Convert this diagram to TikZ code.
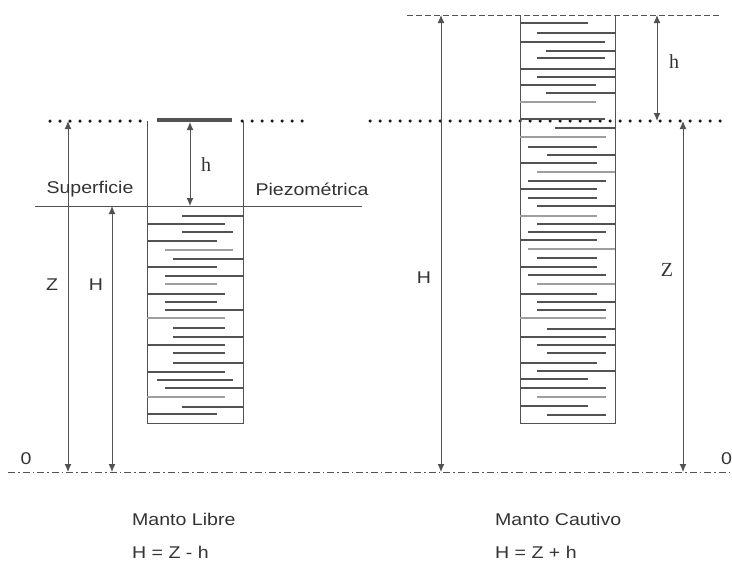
\documentclass[tikz,border=0pt]{standalone}
\usepackage{fontspec}
\setmainfont{Liberation Sans}[FakeStretch=1.15]
\newfontfamily\seriff{Liberation Serif}
\usetikzlibrary{arrows.meta}
\definecolor{ln}{gray}{0.32}
\definecolor{lg}{gray}{0.62}
\tikzset{
  ln/.style={draw=ln, line width=1pt},
  dotline/.style={draw=black!90, line width=3.5pt, line cap=round, dash pattern=on 0pt off 10pt},
  dimarrow/.style={draw=ln, line width=1pt, {Latex[length=8pt,width=7pt]}-{Latex[length=8pt,width=7pt]}},
  lbl/.style={inner sep=0pt, font=\fontsize{17}{20}\selectfont, text=black!80},
  slbl/.style={inner sep=0pt, font=\seriff\fontsize{20}{22}\selectfont, text=black!80},
  hatch/.style={draw=ln, line width=1.1pt},
  hatchg/.style={draw=lg, line width=1.5pt}
}
\begin{document}
\begin{tikzpicture}[x=1pt,y=-1pt]
\useasboundingbox (0,0) rectangle (732,562);
% ---------- left: Manto Libre ----------
\path[dotline] (50,121) -- (145,121);
\path[dotline] (242,121) -- (312,121);
\draw[ln, line width=3.2pt] (157,120) -- (232,120);
\draw[ln] (147,121) -- (147,423) -- (243,423) -- (243,121);
\draw[ln] (35,206) -- (362,206);
\foreach \y/\a/\b/\c in {216/182/243/0,224/147/225/0,232/182/233/0,241/147/217/0,250/165/233/1,259/173/243/0,267/147/217/0,276/165/243/0,284/165/217/1,294/147/225/0,302/165/217/0,310/165/243/0,318/147/225/1,328/173/225/0,337/173/243/0,345/147/225/0,353/173/225/0,363/173/243/0,372/147/225/0,380/157/233/0,388/165/243/0,397/147/225/1,407/182/243/0,414/147/217/0}{
  \ifnum\c=0 \draw[hatch] (\a,\y) -- (\b,\y); \else \draw[hatchg] (\a,\y) -- (\b,\y); \fi
}
% ---------- right: Manto Cautivo ----------
\draw[draw=ln, line width=1pt, dash pattern=on 6pt off 3pt] (407,15) -- (720,15);
\path[dotline] (370,121) -- (730,121);
\draw[ln] (520,15) -- (520,423) -- (615,423) -- (615,15);
\foreach \y/\a/\b/\c in {23/520/588/0,33/537/615/0,42/520/605/0,51/546/615/0,58/537/605/0,69/520/615/0,77/537/615/0,85/520/596/0,93/546/615/0,102/520/596/1,119/520/605/0,128/555/615/0,137/520/606/1,147/528/597/0,155/547/615/0,163/520/597/0,172/537/615/1,181/528/606/0,189/520/597/0,198/528/597/0,206/537/615/0,216/520/597/1,224/537/615/0,232/528/606/0,240/520/597/0,249/528/615/1,258/537/597/0,267/520/597/0,275/528/606/0,284/537/615/1,294/520/597/0,302/537/615/0,310/537/606/0,318/520/606/1,329/547/615/0,337/520/606/0,345/537/615/0,353/547/606/0,363/520/597/0,371/537/615/0,379/520/588/0,388/520/606/0,397/537/606/1,406/520/588/0,415/547/606/0}{
  \ifnum\c=0 \draw[hatch] (\a,\y) -- (\b,\y); \else \draw[hatchg] (\a,\y) -- (\b,\y); \fi
}
% ---------- datum ----------
\draw[draw=ln, line width=1pt, dash pattern=on 7pt off 3pt on 1.5pt off 3pt] (8,472) -- (732,472);
% ---------- coordinates ----------
\coordinate (lZt) at (68,121);  \coordinate (lZb) at (68,472);
\coordinate (lHt) at (112,206); \coordinate (lHb) at (112,472);
\coordinate (lht) at (190,122); \coordinate (lhb) at (190,206);
\coordinate (rHt) at (441,15);  \coordinate (rHb) at (441,472);
\coordinate (rht) at (657,15);  \coordinate (rhb) at (657,121);
\coordinate (rZt) at (683,121); \coordinate (rZb) at (683,472);
\draw[dimarrow] (lZt) -- (lZb);
\draw[dimarrow] (lHt) -- (lHb);
\draw[dimarrow] (lht) -- (lhb);
\draw[dimarrow] (rHt) -- (rHb);
\draw[dimarrow] (rht) -- (rhb);
\draw[dimarrow] (rZt) -- (rZb);
% ---------- labels ----------
\node[lbl] (sup) at (90,189) {Superficie};
\node[lbl] (pie) at (312,189) {Piezométrica};
\node[slbl] (lh) at (206,165) {h};
\node[lbl] (lZ) at (52,285) {Z};
\node[lbl] (lH) at (96,285) {H};
\node[lbl] (l0) at (26,459) {0};
\node[lbl] (rH) at (424,278) {H};
\node[slbl] (rh) at (674,62) {h};
\node[slbl] (rZ) at (667,270) {Z};
\node[lbl, anchor=west] (r0) at (721,459) {0};
\node[lbl, anchor=west] (ml) at (132,519) {Manto Libre};
\node[lbl, anchor=west] (mle) at (132,552) {H = Z - h};
\node[lbl, anchor=west] (mc) at (495,519) {Manto Cautivo};
\node[lbl, anchor=west] (mce) at (495,552) {H = Z + h};
\end{tikzpicture}
\end{document}
